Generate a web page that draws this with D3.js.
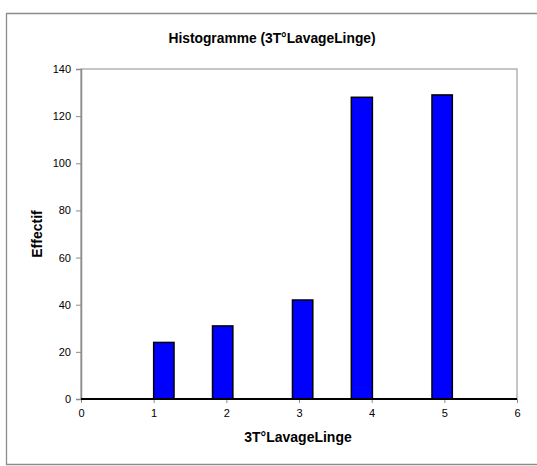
<!DOCTYPE html>
<html><head><meta charset="utf-8">
<script src="https://cdn.jsdelivr.net/npm/d3@7"></script>
<style>html,body{margin:0;background:#fff;overflow:hidden}svg{display:block}text{font-family:"Liberation Sans",Arial,sans-serif}</style>
</head><body>
<script>
const binStart = [1.0, 1.81, 2.91, 3.72, 4.83];
const binEnd = [1.28, 2.09, 3.19, 4.01, 5.11];
const counts = [24, 31, 42, 128, 129];
const xTicks = [0, 1, 2, 3, 4, 5, 6];
const yTicks = [0, 20, 40, 60, 80, 100, 120, 140];

const W = 537, H = 466;
const svg = d3.select("body").append("svg").attr("width", W).attr("height", H);

svg.append("path").attr("d", `M${W},13.5H6.5V464.5H${W}`)
  .attr("fill", "none").attr("stroke", "#8c8c8c").attr("stroke-width", 1.3);

const x = d3.scaleLinear().domain([0, 6]).range([81, 517]);
const y = d3.scaleLinear().domain([0, 140]).range([399, 69]);

// plot area border
svg.append("rect").attr("x", x(0)).attr("y", y(140)).attr("width", x(6) - x(0)).attr("height", y(0) - y(140))
  .attr("fill", "none").attr("stroke", "#8c8c8c").attr("stroke-width", 1);

// y axis
const ya = svg.append("g").attr("transform", `translate(${x(0)},0)`)
  .call(d3.axisLeft(y).tickValues(yTicks).tickFormat(d3.format("d")).tickSize(5).tickPadding(5));
ya.select(".domain").attr("stroke", "#8c8c8c").attr("stroke-width", 1.5);
ya.selectAll(".tick line").attr("stroke", "#8c8c8c");
ya.selectAll("text").attr("font-size", 11).attr("fill", "#000");

// x axis
const xa = svg.append("g").attr("transform", `translate(0,${y(0)})`)
  .call(d3.axisBottom(x).tickValues(xTicks).tickFormat(d3.format("d")).tickSize(4).tickPadding(6));
xa.select(".domain").remove();
xa.selectAll(".tick line").attr("stroke", "#8c8c8c");
xa.selectAll("text").attr("font-size", 11).attr("fill", "#000");

// bars
const data = counts.map((c, i) => ({s: binStart[i], e: binEnd[i], c}));
svg.append("g").selectAll("rect").data(data).join("rect")
  .attr("x", d => x(d.s)).attr("y", d => y(d.c))
  .attr("width", d => x(d.e) - x(d.s)).attr("height", d => y(0) - y(d.c))
  .attr("fill", "#0000ff").attr("stroke", "#000").attr("stroke-width", 1.5);

// baseline
svg.append("line").attr("x1", x(0)).attr("x2", x(6)).attr("y1", y(0)).attr("y2", y(0))
  .attr("stroke", "#000").attr("stroke-width", 2);

// titles
svg.append("text").attr("x", 272).attr("y", 43).attr("text-anchor", "middle")
  .attr("font-size", 13.8).attr("font-weight", "bold").text("Histogramme (3T°LavageLinge)");
svg.append("text").attr("x", 298).attr("y", 442).attr("text-anchor", "middle")
  .attr("font-size", 14).attr("font-weight", "bold").text("3T°LavageLinge");
svg.append("text").attr("transform", "translate(42,234) rotate(-90)").attr("text-anchor", "middle")
  .attr("font-size", 14).attr("font-weight", "bold").text("Effectif");
</script>
</body></html>
